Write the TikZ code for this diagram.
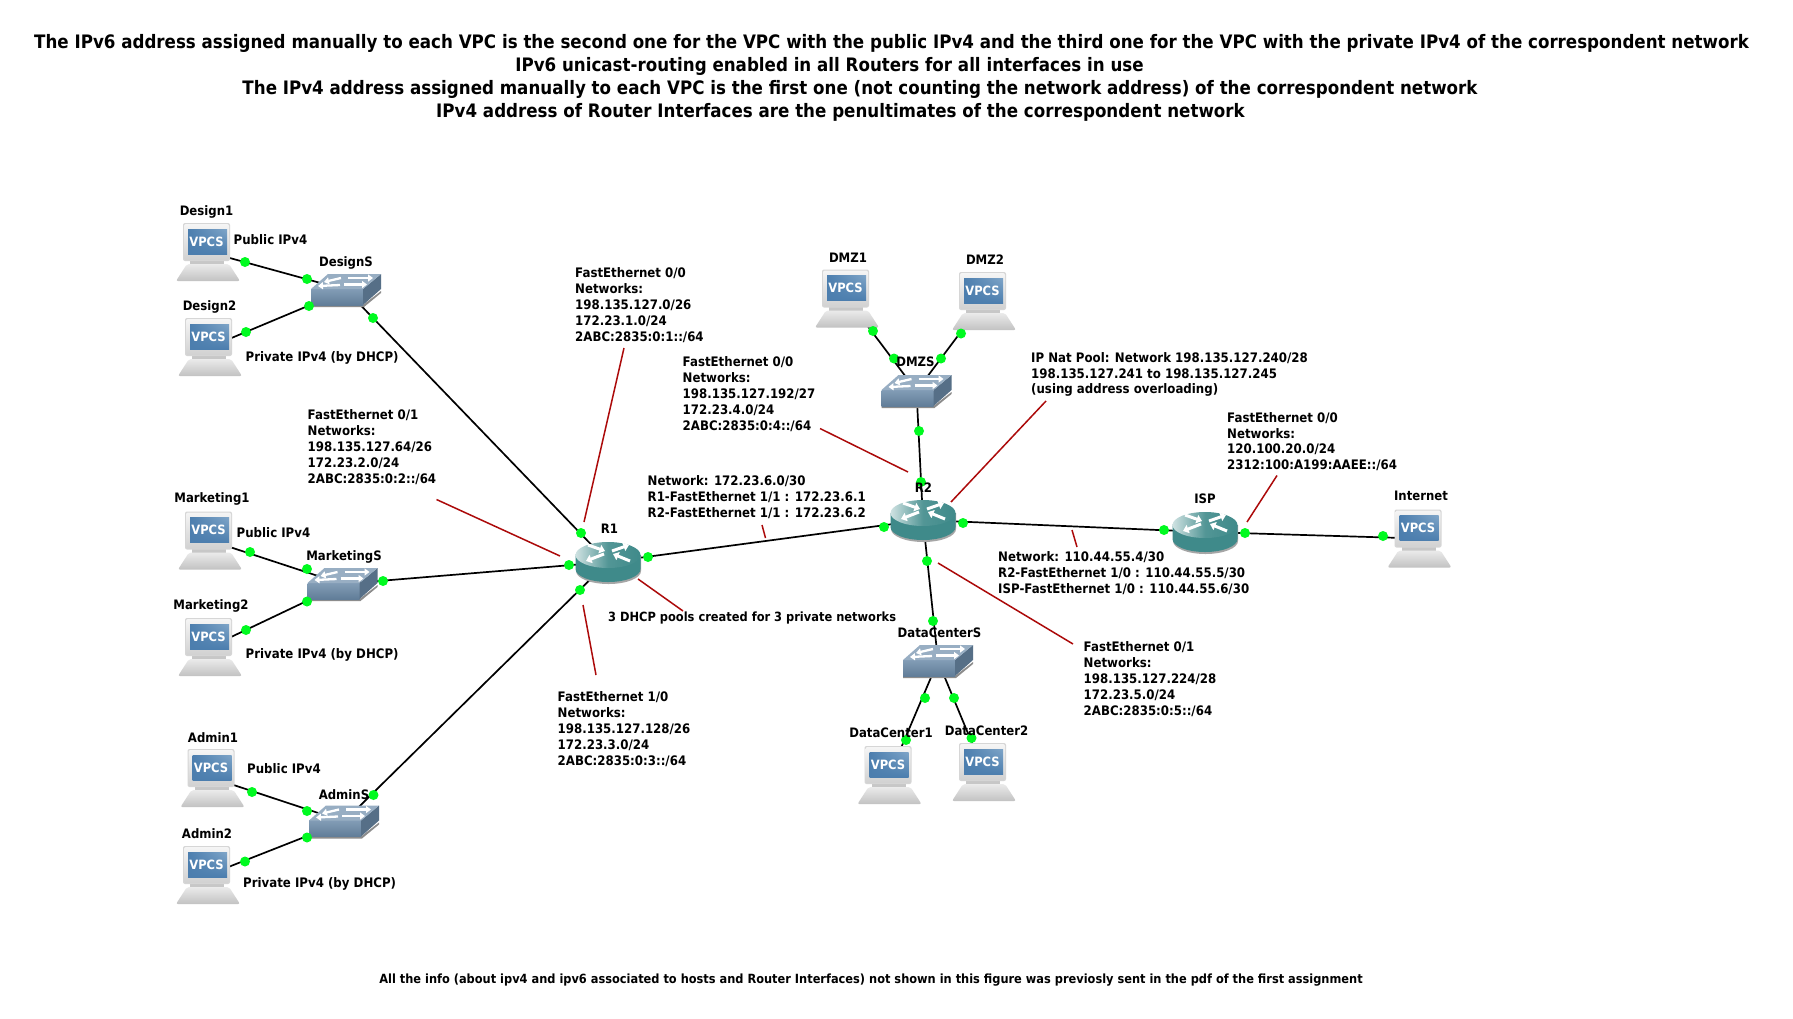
\documentclass[tikz,border=0pt]{standalone}
\usepackage{fontspec}
\setmainfont{DejaVu Sans}[FakeStretch=0.9]
\usepackage{xcolor}
\usetikzlibrary{arrows.meta, shadings}
\definecolor{linkred}{HTML}{AC0A0A}
\definecolor{portgreen}{HTML}{00FA20}
\definecolor{routerteal}{HTML}{3F8A8A}
\definecolor{switchblue}{HTML}{6C8BA9}
\definecolor{screenblue}{HTML}{4C7EAE}
\definecolor{screenlight}{HTML}{7FA5C8}
\tikzstyle{devnode} = [inner sep=0pt, minimum size=0pt]
\tikzstyle{portdot} = [circle, fill=portgreen, inner sep=0pt, minimum size=10pt]
\tikzstyle{link} = [draw=black, line width=1.7pt]
\tikzstyle{redline} = [draw=linkred, line width=1.5pt]
\tikzstyle{devlabel} = [inner sep=0pt, yshift=-1pt, text height=10pt, text depth=3pt, font=\fontsize{13}{16}\selectfont\bfseries]
\tikzstyle{note} = [anchor=north west, align=left, inner sep=0pt, font=\fontsize{13.1}{15.9}\selectfont\bfseries]
\tikzstyle{titleline} = [inner sep=0pt, xshift=-1pt, font=\fontsize{18.55}{23}\selectfont\bfseries]
\newcommand{\vpcicon}[1]{
	\begin{scope}[shift={(#1)}]
		\fill [black!22] (-18,8) rectangle (16,13);
		\shade [top color=black!8, bottom color=black!24, rounded corners=2pt] (-32,29) -- (-21,12) -- (21,12) -- (32,29) -- cycle;
		\fill [black!16, rounded corners=2pt] (-25,-29) rectangle (22,9);
		\shade [top color=black!4, bottom color=black!18, rounded corners=2pt] (-24,-28) rectangle (21,8);
		\shade [lower left=screenblue, lower right=screenblue, upper left=screenblue, upper right=screenlight] (-20,-23) rectangle (19,2);
		\node [inner sep=0pt, text=white, font=\fontsize{12.8}{14}\selectfont\bfseries] at (-1.5,-10.5) {VPCS};
	\end{scope}
}
\newcommand{\switchicon}[1]{
	\begin{scope}[shift={(#1)}]
		\fill [black!45] (-35,15) -- (17,15) -- (35,1) -- (35,3) -- (18,17) -- (-35,17) -- cycle;
		\shade [top color=switchblue!85!white, bottom color=switchblue!90!black] (-35,-1) rectangle (17,15);
		\fill [switchblue!80!black] (17,-1) -- (35,-16) -- (35,-1) -- (17,15) -- cycle;
		\fill [switchblue!70!white] (-35,-1) -- (-18,-16) -- (35,-16) -- (17,-1) -- cycle;
		\draw [white, line width=2.3pt, -{Triangle[length=5pt,width=7pt]}] (-5,-12) -- (-22,-8);
		\draw [white, line width=2.3pt, -{Triangle[length=5pt,width=7pt]}] (2,-12) -- (27,-12);
		\draw [white, line width=2.3pt, -{Triangle[length=5pt,width=7pt]}] (-6,-5) -- (-28,-4);
		\draw [white, line width=2.3pt, -{Triangle[length=5pt,width=7pt]}] (-2,-5.5) -- (21,-5.5);
	\end{scope}
}
\newcommand{\routericon}[1]{
	\begin{scope}[shift={(#1)}]
		\fill [black!35] (-32,-7) -- (-32,9) arc [start angle=180, end angle=0, x radius=32.5, y radius=13] -- (33,-7) -- cycle;
		\fill [routerteal] (-32.5,-7) -- (-32.5,7) arc [start angle=180, end angle=0, x radius=32.5, y radius=13] -- (32.5,-7) -- cycle;
		\shade [left color=routerteal!25!white, right color=routerteal, middle color=routerteal!90!white] (0,-7) ellipse [x radius=32.5, y radius=13];
		\draw [white, line width=3pt, -{Triangle[length=5.5pt,width=8.5pt]}] (-20,-17) -- (-3,-11);
		\draw [white, line width=3pt, -{Triangle[length=5.5pt,width=8.5pt]}] (4,-11) -- (21,-17);
		\draw [white, line width=3pt, -{Triangle[length=5.5pt,width=8.5pt]}] (-4,-8) -- (-22,-1);
		\draw [white, line width=3pt, -{Triangle[length=5.5pt,width=8.5pt]}] (22,-1) -- (5,-8);
	\end{scope}
}
\begin{document}
\begin{tikzpicture}[x=1pt, y=-1pt]
		\useasboundingbox (0,0) rectangle (1793,1018);
		\fill [white] (0,0) rectangle (1793,1018);

		\node (Design1) [devnode] at (208,252) {};
		\node (Design2) [devnode] at (210,347) {};
		\node (DesignS) [devnode] at (346,290) {};
		\node (Marketing1) [devnode] at (210,540.5) {};
		\node (Marketing2) [devnode] at (210,647) {};
		\node (MarketingS) [devnode] at (342.5,584) {};
		\node (Admin1) [devnode] at (212.5,778) {};
		\node (Admin2) [devnode] at (208,875) {};
		\node (AdminS) [devnode] at (344,821.5) {};
		\node (R1) [devnode] at (608,562) {};
		\node (R2) [devnode] at (923,520) {};
		\node (ISP) [devnode] at (1205,532) {};
		\node (Internet) [devnode] at (1419.5,538.5) {};
		\node (DMZ1) [devnode] at (847,298.5) {};
		\node (DMZ2) [devnode] at (984,301) {};
		\node (DMZS) [devnode] at (916.5,391) {};
		\node (DataCenterS) [devnode] at (938,661) {};
		\node (DataCenter1) [devnode] at (889.5,775) {};
		\node (DataCenter2) [devnode] at (984,772) {};

		\foreach \a/\b in {Design1/DesignS, Design2/DesignS, DesignS/R1,
			Marketing1/MarketingS, Marketing2/MarketingS, MarketingS/R1,
			Admin1/AdminS, Admin2/AdminS, AdminS/R1, R1/R2, R2/ISP, ISP/Internet,
			DMZ1/DMZS, DMZ2/DMZS, DMZS/R2, R2/DataCenterS,
			DataCenterS/DataCenter1, DataCenterS/DataCenter2}
			\draw [link] (\a) -- (\b);

		\foreach \n in {Design1, Design2, Marketing1, Marketing2, Admin1, Admin2, DMZ1, DMZ2, DataCenter1, DataCenter2, Internet}
			\vpcicon{\n};
		\foreach \n in {DesignS, MarketingS, AdminS, DMZS, DataCenterS}
			\switchicon{\n};
		\foreach \n in {R1, R2, ISP}
			\routericon{\n};

		\foreach \xa/\ya/\xb/\yb [count=\i] in {624/348/584/522, 436.5/499.5/560/556, 583/605/596/675,
			638/579/683/611, 762/525/765.5/538, 820/428.5/908/472, 1046/401/951/502,
			1277/475.5/1247/522, 1072/530/1077/547, 938/563/1073/644} {
			\coordinate (redA\i) at (\xa,\ya);
			\coordinate (redB\i) at (\xb,\yb);
			\draw [redline] (redA\i) -- (redB\i);
		}

		\foreach \x/\y [count=\i] in {245/262, 307/279, 246/332, 309/306, 373/318, 581/533,
			250/552, 307/569, 246/630, 307/601.5, 383/581, 569/565,
			252/792, 307/811, 245/861.5, 307/837.5, 373.5/795, 580/590,
			648/557, 884/527, 963/523, 1164/530, 1245/533, 1383/536,
			873/331, 894/358.5, 961/333.5, 941/358.5, 919/431, 921/482,
			927/561, 933/621, 925/698, 906/740, 954/698, 971.5/738}
			\node (dot\i) [portdot] at (\x,\y) {};

		\node (lDesign1) [devlabel] at (206.5,211) {Design1};
		\node (lDesign2) [devlabel] at (209.5,306) {Design2};
		\node (lDesignS) [devlabel] at (346,262) {DesignS};
		\node (lMarketing1) [devlabel] at (212,498) {Marketing1};
		\node (lMarketing2) [devlabel] at (211,605) {Marketing2};
		\node (lMarketingS) [devlabel] at (344,555.5) {MarketingS};
		\node (lAdmin1) [devlabel] at (213,738) {Admin1};
		\node (lAdmin2) [devlabel] at (207,834) {Admin2};
		\node (lAdminS) [devlabel] at (344,795) {AdminS};
		\node (lDMZ1) [devlabel] at (848,258) {DMZ1};
		\node (lDMZ2) [devlabel] at (985,260) {DMZ2};
		\node (lDMZS) [devlabel] at (915.5,362) {DMZS};
		\node (lR1) [devlabel] at (609.5,529) {R1};
		\node (lR2) [devlabel] at (923.5,488) {R2};
		\node (lISP) [devlabel] at (1205,498.5) {ISP};
		\node (lInternet) [devlabel] at (1421,496) {Internet};
		\node (lDataCenterS) [devlabel] at (939.5,632.5) {DataCenterS};
		\node (lDataCenter1) [devlabel] at (891,733) {DataCenter1};
		\node (lDataCenter2) [devlabel] at (986.5,731) {DataCenter2};

		\node (pubD) [note] at (233.5,234) {Public IPv4};
		\node (privD) [note] at (245.5,351) {Private IPv4 (by DHCP)};
		\node (pubM) [note] at (236.5,527.5) {Public IPv4};
		\node (privM) [note] at (245.5,648.5) {Private IPv4 (by DHCP)};
		\node (pubA) [note] at (247,763.5) {Public IPv4};
		\node (privA) [note] at (243,877) {Private IPv4 (by DHCP)};

		\node (noteRa) [note] at (575,267.5) {FastEthernet 0/0\\Networks:\\198.135.127.0/26\\172.23.1.0/24\\2ABC:2835:0:1::/64};
		\node (noteRb) [note] at (307.5,409.5) {FastEthernet 0/1\\Networks:\\198.135.127.64/26\\172.23.2.0/24\\2ABC:2835:0:2::/64};
		\node (noteRc) [note] at (557.5,691.5) {FastEthernet 1/0\\Networks:\\198.135.127.128/26\\172.23.3.0/24\\2ABC:2835:0:3::/64};
		\node (noteNa) [note] at (647.5,475.5) {Network: 172.23.6.0/30\\R1-FastEthernet 1/1 : 172.23.6.1\\R2-FastEthernet 1/1 : 172.23.6.2};
		\node (noteDhcp) [note, font=\fontsize{12.7}{15.9}\selectfont\bfseries] at (608,612) {3 DHCP pools created for 3 private networks};
		\node (noteRd) [note] at (682.5,356.5) {FastEthernet 0/0\\Networks:\\198.135.127.192/27\\172.23.4.0/24\\2ABC:2835:0:4::/64};
		\node (noteNat) [note] at (1031,352) {IP Nat Pool: Network 198.135.127.240/28\\198.135.127.241 to 198.135.127.245\\(using address overloading)};
		\node (noteIsp) [note] at (1227,412) {FastEthernet 0/0\\Networks:\\120.100.20.0/24\\2312:100:A199:AAEE::/64};
		\node (noteNb) [note] at (998,551.5) {Network: 110.44.55.4/30\\R2-FastEthernet 1/0 : 110.44.55.5/30\\ISP-FastEthernet 1/0 : 110.44.55.6/30};
		\node (noteRe) [note] at (1083.5,641.5) {FastEthernet 0/1\\Networks:\\198.135.127.224/28\\172.23.5.0/24\\2ABC:2835:0:5::/64};

		\node (title1) [titleline] at (892.5,43) {The IPv6 address assigned manually to each VPC is the second one for the VPC with the public IPv4 and the third one for the VPC with the private IPv4 of the correspondent network};
		\node (title2) [titleline] at (830.5,66) {IPv6 unicast-routing enabled in all Routers for all interfaces in use};
		\node (title3) [titleline] at (861,89) {The IPv4 address assigned manually to each VPC is the first one (not counting the network address) of the correspondent network};
		\node (title4) [titleline] at (841.5,112) {IPv4 address of Router Interfaces are the penultimates of the correspondent network};
		\node (footer) [devlabel, font=\fontsize{12.65}{16}\selectfont\bfseries] at (871,978.5) {All the info (about ipv4 and ipv6 associated to hosts and Router Interfaces) not shown in this figure was previosly sent in the pdf of the first assignment};
	\end{tikzpicture}
\end{document}
